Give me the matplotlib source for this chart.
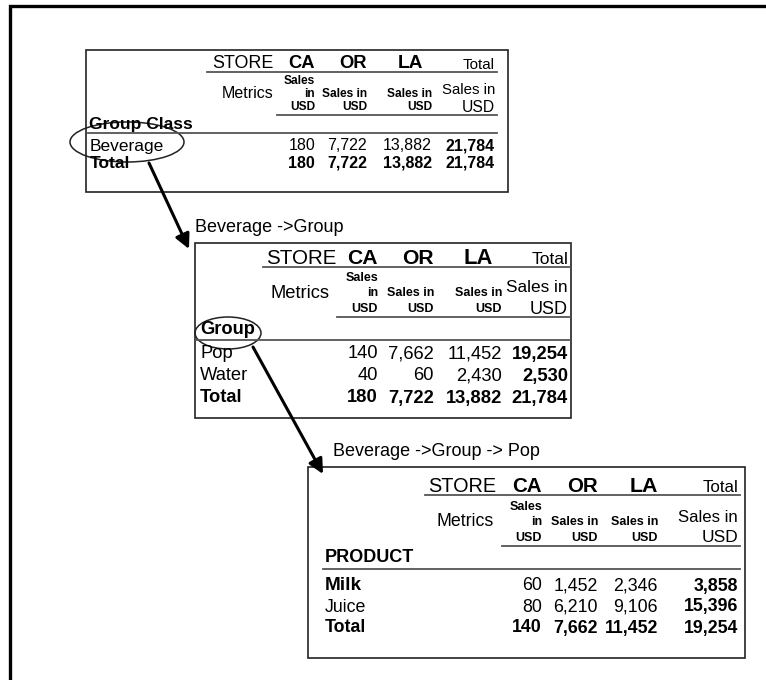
import matplotlib
matplotlib.use("Agg")
import matplotlib.pyplot as plt
from matplotlib.patches import Rectangle, Ellipse

plt.rcParams['font.family'] = ['Liberation Sans', 'DejaVu Sans']

# ---------------- data ----------------
stores = ["CA", "OR", "LA"]
total_label = "Total"
store_label = "STORE"
metrics_label = "Metrics"
attributes = ["Group Class", "Group", "PRODUCT"]
paths = ["Beverage ->Group", "Beverage ->Group -> Pop"]

t1_rows = ["Beverage", "Total"]
t1_values = [[180, 7722, 13882, 21784],
             [180, 7722, 13882, 21784]]
t2_rows = ["Pop", "Water", "Total"]
t2_values = [[140, 7662, 11452, 19254],
             [40, 60, 2430, 2530],
             [180, 7722, 13882, 21784]]
t3_rows = ["Milk", "Juice", "Total"]
t3_values = [[60, 1452, 2346, 3858],
             [80, 6210, 9106, 15396],
             [140, 7662, 11452, 19254]]

# ---------------- figure ----------------
W, H = 766, 680
fig = plt.figure(figsize=(W / 100, H / 100), dpi=100)
ax = fig.add_axes([0, 0, 1, 1])
ax.set_xlim(0, W)
ax.set_ylim(H, 0)
ax.axis('off')

# outer frame (left and top only visible)
ax.plot([10, 10, W + 5], [H + 5, 6, 6], color='black', lw=2.4, solid_joinstyle='miter')

GRID = '#555555'


def draw_table(spec, rows, values, attr, row_styles):
    x0, y0, x1, y1 = spec['box']
    ax.add_patch(Rectangle((x0, y0), x1 - x0, y1 - y0, fill=False,
                           edgecolor='#222222', lw=1.2))
    fs = spec['fs']
    cols = spec['cols']
    # header row: STORE CA OR LA Total
    hy = spec['hy']
    ax.text(spec['store_x'], hy, store_label, ha='left', va='center',
            fontsize=fs * 1.12)
    for i, s in enumerate(stores):
        off = spec['la_off'] if s == "LA" else 0
        sz = fs * 1.2 if s == "LA" else fs * 1.15
        ax.text(cols[i] - off, hy, s, ha='right', va='center',
                fontsize=sz, fontweight='bold')
    ax.text(cols[3], hy + 1, total_label, ha='right', va='center',
            fontsize=fs * 0.95)
    ax.plot([spec['ul1'][0], spec['ul1'][1]], [spec['ul1'][2]] * 2,
            color=GRID, lw=1.3)
    # metrics row
    my = spec['my']
    ax.text(spec['metrics_x'], my, metrics_label, ha='left', va='center',
            fontsize=fs)
    sfs = spec['sfs']
    l1, l2, l3 = spec['sub_y']
    ax.text(cols[0], l1, "Sales", ha='right', va='center', fontsize=sfs,
            fontweight='bold')
    ax.text(cols[0], l2, "in", ha='right', va='center', fontsize=sfs,
            fontweight='bold')
    ax.text(cols[0], l3, "USD", ha='right', va='center', fontsize=sfs,
            fontweight='bold')
    for c in cols[1:3]:
        ax.text(c, l2, "Sales in", ha='right', va='center', fontsize=sfs,
                fontweight='bold')
        ax.text(c, l3, "USD", ha='right', va='center', fontsize=sfs,
                fontweight='bold')
    ax.text(cols[3], spec['tot_sub_y'], "Sales in", ha='right', va='center',
            fontsize=fs * 0.94)
    ax.text(cols[3], l3, "USD", ha='right', va='center', fontsize=fs * 0.98)
    ax.plot([spec['ul2'][0], spec['ul2'][1]], [spec['ul2'][2]] * 2,
            color=GRID, lw=1.3)
    # attribute row
    ax.text(spec['attr_x'], spec['attr_y'], attr, ha='left', va='center',
            fontsize=spec['attr_fs'], fontweight='bold')
    ax.plot([spec['ul3'][0], spec['ul3'][1]], [spec['ul3'][2]] * 2,
            color=GRID, lw=1.3)
    # data rows
    for r, (label, vals) in enumerate(zip(rows, values)):
        y = spec['row_y'][r]
        style = row_styles[r]
        lab_w = 'bold' if style in ('total', 'boldlabel') else 'normal'
        lab_fs = spec['lab_fs'] * (1.06 if style == 'boldlabel' else 1.0)
        ax.text(spec['attr_x'] + spec['row_dx'], y, label, ha='left',
                va='center', fontsize=lab_fs, fontweight=lab_w)
        for c, v in enumerate(vals):
            w = 'bold' if (style == 'total' or c == 3) else 'normal'
            ax.text(cols[c], y, f"{v:,}", ha='right', va='center',
                    fontsize=fs, fontweight=w)


spec1 = dict(box=(86, 50, 508, 192), fs=11.5, sfs=8.6, cols=[315, 367, 432, 495],
             hy=64, store_x=212, la_off=9, ul1=(207, 497, 72),
             my=94, metrics_x=222, sub_y=(81, 94, 107), tot_sub_y=90,
             ul2=(277, 497, 115), attr_x=89, attr_y=125, attr_fs=12.5,
             ul3=(88, 497, 133), row_y=[146, 163], row_dx=1, lab_fs=12.5)
spec2 = dict(box=(195, 243, 571, 418), fs=13.2, sfs=9, cols=[378, 434, 502, 568],
             hy=258, store_x=266, la_off=9, ul1=(263, 570, 267),
             my=293, metrics_x=271, sub_y=(278, 293, 309), tot_sub_y=288,
             ul2=(337, 570, 317), attr_x=200, attr_y=330, attr_fs=13.2,
             ul3=(196, 570, 340), row_y=[354, 376, 398], row_dx=0, lab_fs=13.2)
spec3 = dict(box=(308, 467, 745, 658), fs=12.8, sfs=9, cols=[542, 598, 658, 738],
             hy=487, store_x=428, la_off=0, ul1=(425, 740, 495),
             my=522, metrics_x=436, sub_y=(507, 522, 538), tot_sub_y=518,
             ul2=(502, 740, 546), attr_x=325, attr_y=558, attr_fs=13,
             ul3=(323, 740, 569), row_y=[586, 607, 628], row_dx=0, lab_fs=12.8)

draw_table(spec1, t1_rows, t1_values, attributes[0], ['normal', 'total'])
draw_table(spec2, t2_rows, t2_values, attributes[1], ['normal', 'normal', 'total'])
draw_table(spec3, t3_rows, t3_values, attributes[2], ['boldlabel', 'normal', 'total'])

# drill path titles
ax.text(195, 228, paths[0], ha='left', va='center', fontsize=13)
ax.text(333, 451, paths[1], ha='left', va='center', fontsize=13)

# ellipses
ax.add_patch(Ellipse((127, 142), 114, 40, fill=False, edgecolor='#222222', lw=1.1))
ax.add_patch(Ellipse((228, 333), 66, 32, fill=False, edgecolor='#222222', lw=1.1))

# arrows
ap = dict(arrowstyle='-|>', lw=2.2, color='black', mutation_scale=22,
          shrinkA=0, shrinkB=0)
ax.annotate("", xy=(189, 249), xytext=(149, 163), arrowprops=ap)
ax.annotate("", xy=(323, 474), xytext=(253, 347), arrowprops=ap)

fig.savefig("out.png", dpi=100)
